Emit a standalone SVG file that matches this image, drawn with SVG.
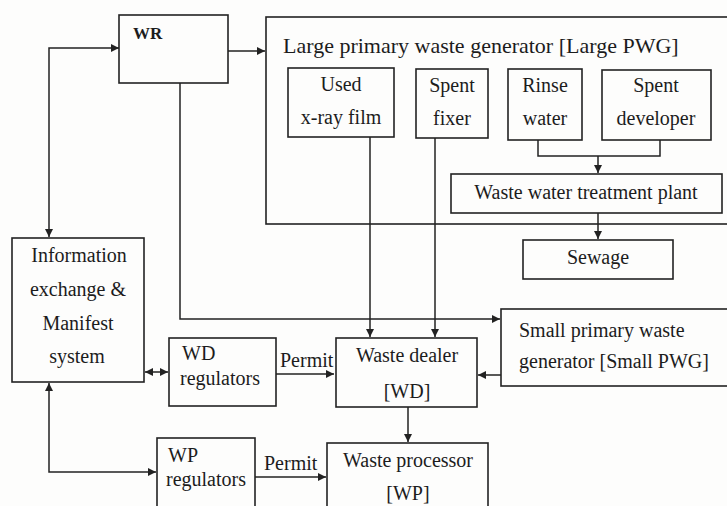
<svg xmlns="http://www.w3.org/2000/svg" width="727" height="506" viewBox="0 0 727 506">
  <style>
    .box { fill: none; stroke: #222; stroke-width: 1.6; }
    .ln { fill: none; stroke: #222; stroke-width: 1.5; }
    .t { font-family: "Liberation Serif", "Times New Roman", serif; font-size: 20px; fill: #1c1c1c; }
    .c { text-anchor: middle; }
    .b { font-weight: bold; font-size: 17px; }
    .title { font-size: 22px; }
  </style>
  <defs>
    <marker id="ah" viewBox="0 0 10 10" refX="10" refY="5" markerWidth="8" markerHeight="8" markerUnits="userSpaceOnUse" orient="auto-start-reverse">
      <path d="M0,0 L10,5 L0,10 z" fill="#222"/>
    </marker>
  </defs>
  <rect width="727" height="506" fill="#fdfdfc"/>

  <!-- connectors -->
  <g id="connectors">
    <path class="ln" d="M119,48 H49 V237" marker-start="url(#ah)" marker-end="url(#ah)"/>
    <path class="ln" d="M228,51 H265" marker-end="url(#ah)"/>
    <path class="ln" d="M180,83 V319 H500" marker-end="url(#ah)"/>
    <path class="ln" d="M370,137 V337" marker-end="url(#ah)"/>
    <path class="ln" d="M435,138 V337" marker-end="url(#ah)"/>
    <path class="ln" d="M538,140 V156 H660 V140"/>
    <path class="ln" d="M598,156 V173" marker-end="url(#ah)"/>
    <path class="ln" d="M598,213 V239" marker-end="url(#ah)"/>
    <path class="ln" d="M145,372 H168" marker-start="url(#ah)" marker-end="url(#ah)"/>
    <path class="ln" d="M276,374 H334" marker-end="url(#ah)"/>
    <path class="ln" d="M501,375 H478" marker-end="url(#ah)"/>
    <path class="ln" d="M408,407 V442" marker-end="url(#ah)"/>
    <path class="ln" d="M49,383 V472 H156" marker-start="url(#ah)" marker-end="url(#ah)"/>
    <path class="ln" d="M255,477 H326" marker-end="url(#ah)"/>
    <text class="t" x="280" y="367">Permit</text>
    <text class="t" x="264" y="470">Permit</text>
  </g>

  <g id="wr">
    <rect class="box" x="119" y="15" width="109" height="68"/>
    <text class="t b" x="133" y="39">WR</text>
  </g>

  <g id="large-pwg">
    <rect class="box" x="266" y="17" width="480" height="207"/>
    <text class="t title" x="283" y="53">Large primary waste generator [Large PWG]</text>
  </g>

  <g id="used-film">
    <rect class="box" x="288" y="68" width="106" height="69"/>
    <text class="t c" x="341" y="91">Used</text>
    <text class="t c" x="341" y="124">x-ray film</text>
  </g>

  <g id="spent-fixer">
    <rect class="box" x="416" y="69" width="72" height="69"/>
    <text class="t c" x="452" y="92">Spent</text>
    <text class="t c" x="452" y="125">fixer</text>
  </g>

  <g id="rinse-water">
    <rect class="box" x="508" y="69" width="74" height="71"/>
    <text class="t c" x="545" y="92">Rinse</text>
    <text class="t c" x="545" y="125">water</text>
  </g>

  <g id="spent-developer">
    <rect class="box" x="602" y="70" width="109" height="70"/>
    <text class="t c" x="656" y="92">Spent</text>
    <text class="t c" x="656" y="125">developer</text>
  </g>

  <g id="wwtp">
    <rect class="box" x="451" y="174" width="271" height="39"/>
    <text class="t c" x="586" y="199">Waste water treatment plant</text>
  </g>

  <g id="sewage">
    <rect class="box" x="523" y="240" width="150" height="39"/>
    <text class="t c" x="598" y="264">Sewage</text>
  </g>

  <g id="info-exchange">
    <rect class="box" x="12" y="238" width="132" height="144"/>
    <text class="t c" x="79" y="262">Information</text>
    <text class="t c" x="78" y="296">exchange &amp;</text>
    <text class="t c" x="78" y="330">Manifest</text>
    <text class="t c" x="77" y="363">system</text>
  </g>

  <g id="small-pwg">
    <rect class="box" x="501" y="309" width="240" height="77"/>
    <text class="t" x="519" y="337">Small primary waste</text>
    <text class="t" x="519" y="368">generator [Small PWG]</text>
  </g>

  <g id="wd-regulators">
    <rect class="box" x="169" y="338" width="107" height="68"/>
    <text class="t" x="182" y="360">WD</text>
    <text class="t" x="180" y="385">regulators</text>
  </g>

  <g id="waste-dealer">
    <rect class="box" x="336" y="338" width="141" height="69"/>
    <text class="t c" x="407" y="362">Waste dealer</text>
    <text class="t c" x="407" y="398">[WD]</text>
  </g>

  <g id="wp-regulators">
    <rect class="box" x="157" y="438" width="98" height="80"/>
    <text class="t" x="168" y="462">WP</text>
    <text class="t" x="166" y="486">regulators</text>
  </g>

  <g id="waste-processor">
    <rect class="box" x="327" y="443" width="161" height="80"/>
    <text class="t c" x="408" y="467">Waste processor</text>
    <text class="t c" x="408" y="500">[WP]</text>
  </g>
</svg>
